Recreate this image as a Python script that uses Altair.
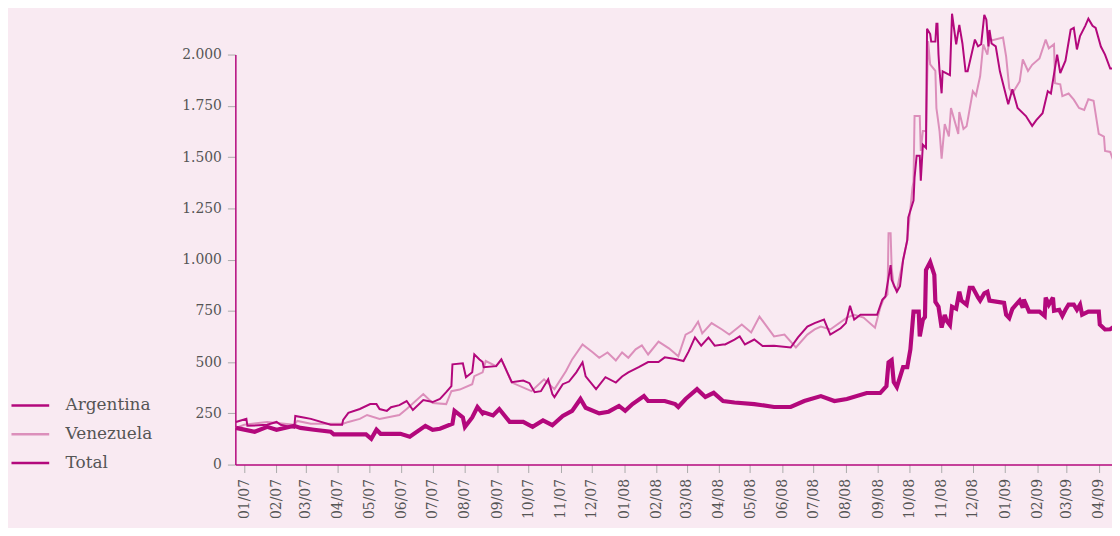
import altair as alt
import pandas as pd

# ---- data (days since 2007-01-01, value) ----
arg_days = [-8, 2, 3, 22, 31, 35, 48, 49, 57, 64, 83, 94, 95, 100, 111, 121, 127, 130, 137, 141, 149, 156, 162, 172, 181, 188, 194, 199, 200, 210, 213, 219, 221, 226, 229, 230, 242, 247, 250, 257, 268, 274, 279, 285, 292, 296, 298, 306, 312, 319, 325, 328, 338, 347, 357, 363, 369, 379, 388, 398, 404, 414, 422, 427, 433, 439, 446, 452, 460, 462, 471, 476, 481, 490, 498, 509, 525, 532, 541, 548, 557, 563, 573, 578, 582, 586, 592, 598, 608, 613, 616, 621, 622, 627, 630, 633, 637, 638, 643, 644, 646, 649, 650, 652, 655, 656, 659, 660, 664, 665, 666, 667, 668, 670, 671, 678, 680, 684, 687, 690, 693, 695, 702, 705, 708, 711, 713, 715, 716, 718, 722, 726, 734, 738, 743, 751, 757, 761, 767, 772, 775, 781, 784, 789, 794, 797, 800, 803, 808, 811, 815, 818, 823, 827, 832, 835]
arg_vals = [208, 223, 189, 194, 208, 194, 179, 237, 230, 223, 194, 194, 218, 252, 271, 295, 295, 271, 262, 280, 290, 310, 266, 315, 305, 320, 353, 383, 489, 494, 426, 450, 538, 513, 500, 475, 480, 513, 480, 402, 410, 397, 353, 358, 416, 344, 329, 392, 405, 450, 499, 430, 368, 426, 400, 430, 450, 475, 500, 500, 523, 515, 505, 552, 620, 580, 620, 580, 586, 586, 610, 625, 586, 610, 578, 580, 571, 620, 673, 690, 707, 634, 665, 690, 775, 707, 731, 731, 731, 804, 820, 973, 901, 843, 870, 998, 1095, 1206, 1288, 1400, 1506, 1506, 1385, 1560, 1545, 2126, 2100, 2063, 2063, 2150, 2150, 2000, 1920, 1811, 1918, 1900, 2199, 2050, 2145, 2054, 1918, 1918, 2073, 2040, 2050, 2194, 2170, 2040, 2120, 2054, 2040, 1918, 1758, 1831, 1739, 1700, 1652, 1680, 1714, 1821, 1810, 2000, 1910, 1970, 2121, 2130, 2025, 2090, 2140, 2175, 2140, 2130, 2039, 2000, 1932, 1932]

ven_days = [-8, 0, 22, 48, 51, 64, 95, 100, 111, 118, 130, 149, 156, 172, 181, 194, 199, 207, 219, 221, 229, 232, 242, 245, 247, 257, 276, 288, 298, 309, 315, 325, 335, 341, 349, 357, 363, 369, 376, 382, 388, 398, 408, 417, 424, 430, 436, 440, 449, 459, 466, 478, 487, 495, 509, 519, 530, 541, 548, 554, 563, 579, 586, 595, 606, 611, 614, 618, 619, 621, 622, 624, 627, 633, 637, 642, 643, 644, 649, 650, 652, 655, 657, 659, 664, 665, 668, 670, 673, 677, 679, 686, 687, 691, 694, 700, 703, 707, 710, 714, 716, 719, 729, 732, 735, 738, 745, 748, 753, 757, 764, 770, 773, 778, 779, 784, 786, 792, 797, 802, 807, 811, 816, 821, 826, 827, 832, 835]
ven_vals = [179, 194, 208, 194, 213, 199, 199, 208, 223, 242, 223, 242, 271, 344, 300, 295, 358, 366, 392, 431, 450, 505, 480, 500, 513, 400, 358, 416, 368, 455, 513, 586, 547, 521, 547, 508, 547, 521, 562, 581, 537, 600, 567, 528, 634, 650, 697, 640, 690, 659, 634, 683, 644, 722, 625, 634, 571, 634, 659, 673, 659, 717, 731, 717, 668, 765, 804, 830, 1128, 1128, 960, 870, 850, 998, 1095, 1351, 1380, 1700, 1700, 1530, 1627, 1627, 2066, 1952, 1920, 1739, 1627, 1492, 1661, 1600, 1739, 1613, 1720, 1637, 1650, 1821, 1800, 1894, 2049, 2000, 2078, 2070, 2083, 1990, 1836, 1810, 1869, 1976, 1920, 1950, 1981, 2073, 2030, 2050, 1860, 1855, 1797, 1810, 1780, 1739, 1730, 1782, 1775, 1613, 1600, 1530, 1525, 1482]

tot_days = [-8, 10, 22, 31, 48, 54, 67, 83, 86, 117, 122, 127, 131, 150, 159, 174, 181, 188, 200, 202, 210, 212, 219, 224, 229, 230, 239, 245, 255, 268, 277, 287, 296, 306, 315, 323, 328, 341, 350, 360, 366, 373, 384, 388, 404, 414, 417, 424, 435, 443, 451, 460, 471, 490, 509, 525, 538, 554, 567, 579, 598, 611, 617, 619, 622, 624, 627, 633, 637, 640, 643, 648, 649, 652, 654, 655, 659, 663, 664, 667, 670, 673, 675, 678, 680, 684, 687, 689, 694, 697, 700, 705, 707, 711, 714, 716, 730, 732, 735, 738, 745, 748, 749, 754, 764, 769, 770, 773, 777, 778, 783, 786, 789, 792, 797, 800, 803, 805, 811, 821, 822, 827, 832, 835]
tot_vals = [179, 160, 184, 170, 189, 179, 170, 160, 147, 147, 126, 170, 150, 150, 136, 189, 170, 175, 199, 262, 230, 184, 230, 281, 250, 255, 240, 271, 208, 208, 184, 215, 192, 237, 262, 320, 277, 250, 258, 286, 262, 295, 334, 310, 310, 295, 281, 320, 368, 330, 350, 310, 303, 295, 281, 281, 310, 334, 310, 320, 349, 349, 383, 499, 510, 402, 378, 475, 475, 562, 746, 746, 625, 707, 720, 949, 988, 925, 794, 770, 668, 730, 700, 680, 770, 760, 843, 800, 780, 862, 862, 815, 800, 835, 843, 800, 789, 731, 715, 760, 800, 765, 805, 746, 746, 725, 814, 780, 814, 750, 755, 725, 755, 780, 780, 755, 780, 731, 746, 746, 683, 659, 660, 670]

series_names = ["Argentina", "Venezuela", "Total"]
series_colors = ["#b3087c", "#dc8fbb", "#b3087c"]
series_widths = {"Venezuela": 2, "Argentina": 2, "Total": 4.2}
y_ticks = [0, 250, 500, 750, 1000, 1250, 1500, 1750, 2000]
month_ticks = pd.date_range("2007-01-01", "2009-04-01", freq="MS")

base = pd.Timestamp("2007-01-01")


def frame(name, days, vals):
    return pd.DataFrame({
        "date": base + pd.to_timedelta(days, unit="D"),
        "value": vals,
        "series": name,
    })


df = pd.concat([
    frame("Venezuela", ven_days, ven_vals),
    frame("Argentina", arg_days, arg_vals),
    frame("Total", tot_days, tot_vals),
], ignore_index=True)

FONT = "DejaVu Serif"
TEXT = "#555555"
AXIS = "#b3087c"

legend = alt.Legend(
    title=None, orient="none", legendX=-227, legendY=333,
    symbolType="stroke", symbolSize=1444, symbolStrokeWidth=2.5,
    labelFont=FONT, labelFontSize=17,
    labelColor=TEXT, labelOffset=15, rowPadding=-10,
)

x_enc = alt.X("date:T",
              scale=alt.Scale(domain=[alt.DateTime(year=2006, month=12, date=23, hours=10),
                                      alt.DateTime(year=2009, month=4, date=13, hours=17)]),
              axis=alt.Axis(title=None, format="%m/%y", labelAngle=270,
                            values=[alt.DateTime(year=d.year, month=d.month, date=1) for d in month_ticks],
                            grid=False))
y_enc = alt.Y("value:Q",
              scale=alt.Scale(domain=[0, 2000], nice=False),
              axis=alt.Axis(title=None, values=y_ticks, grid=False,
                            labelExpr="replace(format(datum.value, ','), ',', '.')"))
c_enc = alt.Color("series:N", scale=alt.Scale(domain=series_names, range=series_colors), legend=legend)

layers = []
for name in ["Venezuela", "Argentina", "Total"]:
    layers.append(
        alt.Chart(df).transform_filter(alt.datum.series == name)
        .mark_line(strokeWidth=series_widths[name], strokeJoin="miter", strokeMiterLimit=3)
        .encode(x=x_enc, y=y_enc, color=c_enc)
    )

chart = alt.layer(*layers).properties(
    width=883, height=413,
    autosize=alt.AutoSizeParams(type="none"),
    padding={"left": 229, "top": 45, "right": 0, "bottom": 62},
    background="#f9eaf2",
).configure_view(
    strokeWidth=0
).configure_axis(
    domainColor=AXIS, domainWidth=1.5, tickColor="#aaaaaa", tickSize=8,
    labelFont=FONT, labelFontSize=14, labelColor=TEXT, labelPadding=6,
).configure_legend(
    symbolType="stroke", symbolSize=1444, labelOffset=15, rowPadding=-10,
    labelFont=FONT, labelFontSize=17, labelColor=TEXT,
)

chart.save("out.html", embed_options={"renderer": "svg", "actions": False})
